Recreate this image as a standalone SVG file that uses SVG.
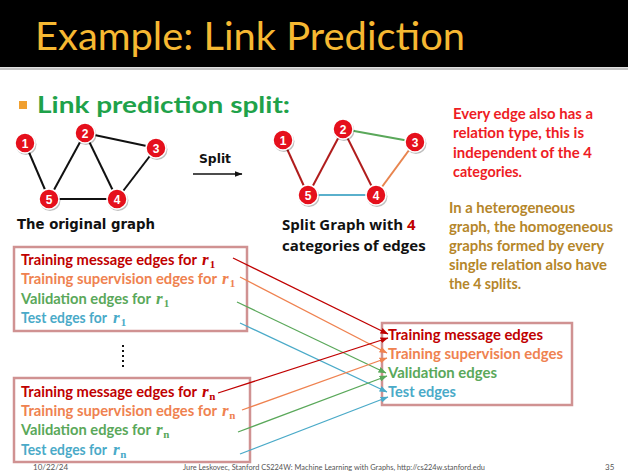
<svg xmlns="http://www.w3.org/2000/svg" width="628" height="474" viewBox="0 0 628 474">
<style>
.b{font-family:Lato,"Open Sans","Liberation Sans",sans-serif;font-weight:bold}
.v{font-family:"DejaVu Sans",Verdana,sans-serif;font-weight:bold;fill:#111}
.o{font-family:"Open Sans","DejaVu Sans",sans-serif;font-weight:bold;fill:#111;font-size:15px}
.num{font-family:"Liberation Sans",Arial,sans-serif;font-weight:bold;font-size:12px;fill:#fff;text-anchor:middle}
.m{font-family:"Liberation Serif","Times New Roman",serif;font-weight:bold;font-style:italic;font-size:17px}
.s{font-family:"Liberation Serif","Times New Roman",serif;font-weight:bold;font-size:11px}
.dr{fill:#c00000}.or{fill:#ef8250}.gr{fill:#5aa85a}.bl{fill:#4aaac8}
.ge{stroke:#111;stroke-width:2;fill:none}
.nd{fill:#e5101c;stroke:#fff;stroke-width:1.5}
.sh{fill:#000;opacity:.25}
.box{fill:none;stroke:#d09292;stroke-width:2.5}
.cn{fill:none;stroke-width:1.3}
.foot{font-family:Lato,"Liberation Sans",sans-serif;font-size:8px;fill:#555}
</style>
<defs>
<marker id="aR" viewBox="0 0 8 6" refX="7.5" refY="3" markerWidth="8" markerHeight="6" markerUnits="userSpaceOnUse" orient="auto"><path d="M0,0L8,3L0,6z" fill="#c00000"/></marker>
<marker id="aO" viewBox="0 0 8 6" refX="7.5" refY="3" markerWidth="8" markerHeight="6" markerUnits="userSpaceOnUse" orient="auto"><path d="M0,0L8,3L0,6z" fill="#ef8250"/></marker>
<marker id="aG" viewBox="0 0 8 6" refX="7.5" refY="3" markerWidth="8" markerHeight="6" markerUnits="userSpaceOnUse" orient="auto"><path d="M0,0L8,3L0,6z" fill="#5aa85a"/></marker>
<marker id="aB" viewBox="0 0 8 6" refX="7.5" refY="3" markerWidth="8" markerHeight="6" markerUnits="userSpaceOnUse" orient="auto"><path d="M0,0L8,3L0,6z" fill="#4aaac8"/></marker>
<marker id="aK" viewBox="0 0 8 6" refX="7.5" refY="3" markerWidth="8" markerHeight="6" markerUnits="userSpaceOnUse" orient="auto"><path d="M0,0L8,3L0,6z" fill="#111"/></marker>
</defs>
<rect width="628" height="474" fill="#fff"/>
<rect x="0" y="0" width="628" height="67" fill="#000"/>
<rect x="0" y="67.5" width="628" height="2.5" fill="#c4c4c4"/>
<text x="35" y="50" font-family="Lato,'Open Sans',sans-serif" font-size="39" fill="#f6b832" textLength="430" lengthAdjust="spacingAndGlyphs">Example: Link Prediction</text>
<rect x="19" y="101" width="8" height="8" fill="#f0a030"/>
<text class="b" x="37" y="113" font-size="23" fill="#1fa24a" textLength="253" lengthAdjust="spacingAndGlyphs">Link prediction split:</text>

<g id="graph-original">
<g class="ge">
<line x1="25" y1="143" x2="49" y2="199"/><line x1="49" y1="199" x2="85" y2="133"/>
<line x1="85" y1="133" x2="117" y2="199"/><line x1="85" y1="133" x2="156" y2="148"/>
<line x1="156" y1="148" x2="117" y2="199"/><line x1="49" y1="199" x2="117" y2="199"/>
</g>
<g id="o1"><circle class="sh" cx="26" cy="144.5" r="10.5"/><circle class="nd" cx="25" cy="143" r="10"/><text class="num" x="25" y="147.5">1</text></g>
<g id="o2"><circle class="sh" cx="86" cy="134.5" r="10.5"/><circle class="nd" cx="85" cy="133" r="10"/><text class="num" x="85" y="137.5">2</text></g>
<g id="o3"><circle class="sh" cx="157" cy="149.5" r="10.5"/><circle class="nd" cx="156" cy="148" r="10"/><text class="num" x="156" y="152.5">3</text></g>
<g id="o4"><circle class="sh" cx="118" cy="200.5" r="10.5"/><circle class="nd" cx="117" cy="199" r="10"/><text class="num" x="117" y="203.5">4</text></g>
<g id="o5"><circle class="sh" cx="50" cy="200.5" r="10.5"/><circle class="nd" cx="49" cy="199" r="10"/><text class="num" x="49" y="203.5">5</text></g>
<text class="v" x="17" y="229" font-size="14" textLength="138" lengthAdjust="spacingAndGlyphs">The original graph</text>
</g>

<g id="split-arrow">
<text class="v" x="199" y="163" font-size="13" textLength="32" lengthAdjust="spacingAndGlyphs">Split</text>
<line x1="193" y1="174" x2="242" y2="174" stroke="#111" stroke-width="1.5" marker-end="url(#aK)"/>
</g>

<g id="graph-split">
<g fill="none" stroke-width="2">
<line x1="283" y1="140" x2="308" y2="195" stroke="#b01c1c"/>
<line x1="308" y1="195" x2="343" y2="129" stroke="#b01c1c"/>
<line x1="343" y1="129" x2="376" y2="195" stroke="#b01c1c"/>
<line x1="343" y1="129" x2="415" y2="142" stroke="#5aa85a"/>
<line x1="415" y1="142" x2="376" y2="195" stroke="#e8844e"/>
<line x1="308" y1="195" x2="376" y2="195" stroke="#5ab0cc"/>
</g>
<g id="s1"><circle class="sh" cx="284" cy="141.5" r="10.5"/><circle class="nd" cx="283" cy="140" r="10"/><text class="num" x="283" y="144.5">1</text></g>
<g id="s2"><circle class="sh" cx="344" cy="130.5" r="10.5"/><circle class="nd" cx="343" cy="129" r="10"/><text class="num" x="343" y="133.5">2</text></g>
<g id="s3"><circle class="sh" cx="416" cy="143.5" r="10.5"/><circle class="nd" cx="415" cy="142" r="10"/><text class="num" x="415" y="146.5">3</text></g>
<g id="s4"><circle class="sh" cx="377" cy="196.5" r="10.5"/><circle class="nd" cx="376" cy="195" r="10"/><text class="num" x="376" y="199.5">4</text></g>
<g id="s5"><circle class="sh" cx="309" cy="196.5" r="10.5"/><circle class="nd" cx="308" cy="195" r="10"/><text class="num" x="308" y="199.5">5</text></g>
<text class="o" x="282" y="230">Split Graph with <tspan style="fill:#c00000">4</tspan></text>
<text class="o" x="282" y="251">categories of edges</text>
</g>

<g id="note-red" class="b" font-size="15" fill="#ee1c24">
<text x="453" y="119" textLength="140" lengthAdjust="spacingAndGlyphs">Every edge also has a</text>
<text x="453" y="138" textLength="131" lengthAdjust="spacingAndGlyphs">relation type, this is</text>
<text x="453" y="158" textLength="139" lengthAdjust="spacingAndGlyphs">independent of the 4</text>
<text x="453" y="177" textLength="69" lengthAdjust="spacingAndGlyphs">categories.</text>
</g>
<g id="note-brown" class="b" font-size="15" fill="#b5862a">
<text x="449" y="213" textLength="126" lengthAdjust="spacingAndGlyphs">In a heterogeneous</text>
<text x="449" y="232" textLength="164" lengthAdjust="spacingAndGlyphs">graph, the homogeneous</text>
<text x="449" y="251" textLength="155" lengthAdjust="spacingAndGlyphs">graphs formed by every</text>
<text x="449" y="270" textLength="158" lengthAdjust="spacingAndGlyphs">single relation also have</text>
<text x="449" y="289" textLength="72" lengthAdjust="spacingAndGlyphs">the 4 splits.</text>
</g>

<g id="box-r1">
<rect class="box" x="14" y="247" width="233" height="84"/>
<g class="b" font-size="15">
<text class="dr" x="21" y="265" textLength="176" lengthAdjust="spacingAndGlyphs">Training message edges for</text>
<text class="or" x="21" y="284" textLength="196" lengthAdjust="spacingAndGlyphs">Training supervision edges for</text>
<text class="gr" x="21" y="304" textLength="130" lengthAdjust="spacingAndGlyphs">Validation edges for</text>
<text class="bl" x="21" y="323" textLength="86" lengthAdjust="spacingAndGlyphs">Test edges for</text>
</g>
<text class="dr" x="202" y="265"><tspan class="m">r</tspan><tspan class="s" dx="1" dy="3">1</tspan></text>
<text class="or" x="222" y="284"><tspan class="m">r</tspan><tspan class="s" dx="1" dy="3">1</tspan></text>
<text class="gr" x="156" y="304"><tspan class="m">r</tspan><tspan class="s" dx="1" dy="3">1</tspan></text>
<text class="bl" x="113" y="323"><tspan class="m">r</tspan><tspan class="s" dx="1" dy="3">1</tspan></text>
</g>

<line id="ellipsis" x1="123" y1="345" x2="123" y2="368" stroke="#111" stroke-width="2" stroke-dasharray="2 3"/>

<g id="box-rn">
<rect class="box" x="14" y="378" width="236" height="84"/>
<g class="b" font-size="15">
<text class="dr" x="21" y="397" textLength="176" lengthAdjust="spacingAndGlyphs">Training message edges for</text>
<text class="or" x="21" y="416" textLength="196" lengthAdjust="spacingAndGlyphs">Training supervision edges for</text>
<text class="gr" x="21" y="435" textLength="130" lengthAdjust="spacingAndGlyphs">Validation edges for</text>
<text class="bl" x="21" y="455" textLength="86" lengthAdjust="spacingAndGlyphs">Test edges for</text>
</g>
<text class="dr" x="202" y="397"><tspan class="m">r</tspan><tspan class="s" dx="0.5" dy="3">n</tspan></text>
<text class="or" x="222" y="416"><tspan class="m">r</tspan><tspan class="s" dx="0.5" dy="3">n</tspan></text>
<text class="gr" x="156" y="435"><tspan class="m">r</tspan><tspan class="s" dx="0.5" dy="3">n</tspan></text>
<text class="bl" x="113" y="455"><tspan class="m">r</tspan><tspan class="s" dx="0.5" dy="3">n</tspan></text>
</g>

<g id="box-merged">
<rect class="box" x="382" y="323" width="190" height="82"/>
<g class="b" font-size="16">
<text class="dr" x="388" y="340" textLength="155" lengthAdjust="spacingAndGlyphs">Training message edges</text>
<text class="or" x="388" y="359" textLength="175" lengthAdjust="spacingAndGlyphs">Training supervision edges</text>
<text class="gr" x="388" y="378" textLength="109" lengthAdjust="spacingAndGlyphs">Validation edges</text>
<text class="bl" x="388" y="397" textLength="68" lengthAdjust="spacingAndGlyphs">Test edges</text>
</g>
</g>

<g id="connectors">
<line class="cn" x1="233" y1="258" x2="388" y2="334" stroke="#c00000" marker-end="url(#aR)"/>
<line class="cn" x1="240" y1="277" x2="387" y2="353" stroke="#ef8250" marker-end="url(#aO)"/>
<line class="cn" x1="237" y1="302" x2="386" y2="373" stroke="#5aa85a" marker-end="url(#aG)"/>
<line class="cn" x1="240" y1="323" x2="387" y2="392" stroke="#4aaac8" marker-end="url(#aB)"/>
<line class="cn" x1="218" y1="393" x2="388" y2="338" stroke="#c00000" marker-end="url(#aR)"/>
<line class="cn" x1="242" y1="410" x2="387" y2="358" stroke="#ef8250" marker-end="url(#aO)"/>
<line class="cn" x1="238" y1="432" x2="387" y2="376" stroke="#5aa85a" marker-end="url(#aG)"/>
<line class="cn" x1="240" y1="454" x2="388" y2="397" stroke="#4aaac8" marker-end="url(#aB)"/>
</g>

<text class="foot" x="33" y="470">10/22/24</text>
<text class="foot" x="183" y="470" textLength="302" lengthAdjust="spacingAndGlyphs">Jure Leskovec, Stanford CS224W: Machine Learning with Graphs, http://cs224w.stanford.edu</text>
<text class="foot" x="605" y="470">35</text>
</svg>
